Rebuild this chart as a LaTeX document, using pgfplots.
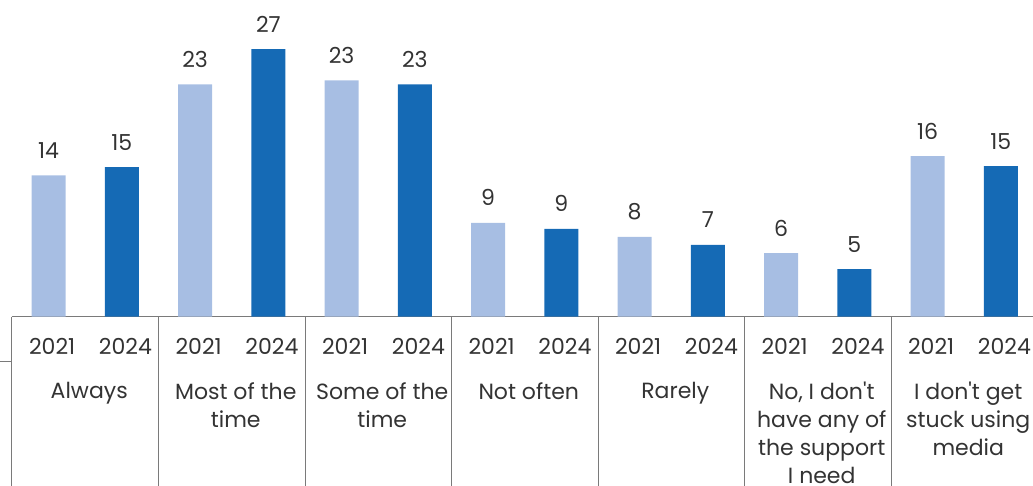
\documentclass[border=0pt]{standalone}
\usepackage{fontspec}
\setmainfont{Poppins}[Ligatures=TeXOff]
\usepackage{pgfplots}
\pgfplotsset{compat=1.18}
\definecolor{lightb}{HTML}{A7BEE3}
\definecolor{darkb}{HTML}{156AB5}
\definecolor{txt}{HTML}{333333}
\definecolor{sep}{HTML}{7A7A7A}
\begin{document}
\begin{tikzpicture}
\begin{axis}[
  at={(12pt,169.3pt)}, anchor=south west,
  scale only axis, width=1025.5pt, height=316.7pt,
  xmin=0, xmax=14, ymin=0, ymax=31.36,
  enlargelimits=false, clip=false,
  hide y axis, axis x line*=bottom,
  x axis line style={sep, line width=1pt},
  xtick={0.5,1.5,...,13.5},
  xticklabels={2021,2024,2021,2024,2021,2024,2021,2024,2021,2024,2021,2024,2021,2024},
  major tick length=0pt,
  xticklabel style={anchor=base, inner sep=0pt, yshift=-37.8pt, xshift=3.5pt, font=\fontsize{22}{28}\selectfont, text=txt},
  point meta=explicit symbolic,
  nodes near coords,
  every node near coord/.append style={anchor=base, inner sep=0pt, yshift=17pt, font=\fontsize{22}{28}\selectfont, text=txt},
]
\addplot[ybar, bar width=34pt, bar shift=0pt, fill=lightb, draw=none] coordinates {
  (0.5,14.0) [14] (2.5,23.0) [23] (4.5,23.4) [23] (6.5,9.3) [9]
  (8.5,7.9) [8] (10.5,6.3) [6] (12.5,15.9) [16]
};
\addplot[ybar, bar width=34pt, bar shift=0pt, fill=darkb, draw=none] coordinates {
  (1.5,14.8) [15] (3.5,26.5) [27] (5.5,23.0) [23] (7.5,8.7) [9]
  (9.5,7.1) [7] (11.5,4.7) [5] (13.5,14.9) [15]
};
\foreach \k in {0,2,...,14}{
  \edef\tmp{\noexpand\draw[sep, line width=1pt] (axis cs:\k,0) -- ++(0,-200pt);}
  \tmp
}
\draw[sep, line width=1pt] (axis cs:0,0) ++(0,-44.6pt) -- ++(-12pt,0);
\begin{scope}[every node/.style={anchor=north, inner sep=0pt, align=center, font=\fontsize{22}{28}\selectfont, text=txt}]
\node at (axis cs:1,0)  [yshift=-65.3pt, xshift=4pt] {Always};
\node at (axis cs:3,0)  [yshift=-65.3pt, xshift=4pt] {Most of the\\time};
\node at (axis cs:5,0)  [yshift=-65.3pt, xshift=4pt] {Some of the\\time};
\node at (axis cs:7,0)  [yshift=-65.3pt, xshift=4pt] {Not often};
\node at (axis cs:9,0)  [yshift=-65.3pt, xshift=4pt] {Rarely};
\node at (axis cs:11,0) [yshift=-65.3pt, xshift=4pt] {No, I don't\\have any of\\the support\\I need};
\node at (axis cs:13,0) [yshift=-65.3pt, xshift=4pt] {I don't get\\stuck using\\media};
\end{scope}
\end{axis}
\pgfresetboundingbox
\path[use as bounding box] (0,0) rectangle (1033pt,486pt);
\end{tikzpicture}
\end{document}
